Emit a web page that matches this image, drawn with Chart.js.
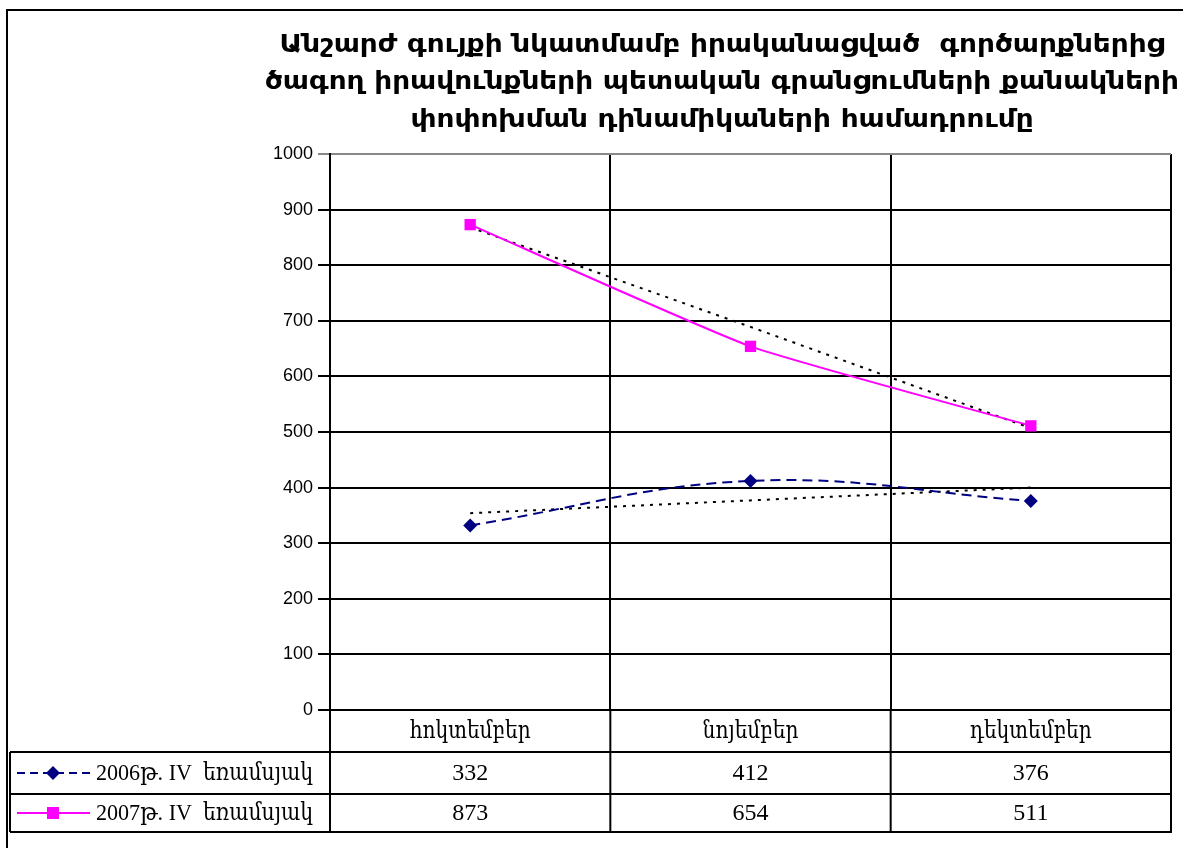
<!DOCTYPE html>
<html>
<head>
<meta charset="utf-8">
<script src="https://cdn.jsdelivr.net/npm/chart.js@4.4.1/dist/chart.umd.min.js"></script>
<style>
  body { margin: 0; background: #fff; }
  #wrap { width: 1185px; height: 848px; }
</style>
</head>
<body>
<div id="wrap"><canvas id="myChart" width="1185" height="848"></canvas></div>
<script>
const titleLines = [
    "Անշարժ գույքի նկատմամբ իրականացված  գործարքներից",
    "ծագող իրավունքների պետական գրանցումների քանակների",
    "փոփոխման դինամիկաների համադրումը"
];
const categories = ["հոկտեմբեր", "նոյեմբեր", "դեկտեմբեր"];
const seriesNames = ["2006թ. IV  եռամսյակ", "2007թ. IV  եռամսյակ"];
const values2006 = [332, 412, 376];
const values2007 = [873, 654, 511];
// dotted trend lines
const trend2006 = [354, 377, 400];
const trend2007 = [868, 689, 507];
const yMin = 0;
const yMax = 1000;
const yStep = 100;

const navy = "#000080";
const magenta = "#ff00ff";
const tableFont = "24px 'Liberation Serif', 'DejaVu Serif', serif";

// draw text squeezed horizontally by factor sx
const fillSqueezed = (ctx, text, x, y, sx) => {
    ctx.save();
    ctx.translate(x, y);
    ctx.scale(sx, 1);
    ctx.fillText(text, 0, 0);
    ctx.restore();
};

const drawTitle = (ctx) => {
    ctx.save();
    ctx.fillStyle = "#000";
    ctx.font = "bold 25px 'DejaVu Sans Condensed', 'DejaVu Sans', sans-serif";
    ctx.textAlign = "center";
    ctx.textBaseline = "middle";
    // squeeze to the width of the first line in the picture
    let sx = 885 / ctx.measureText(titleLines[0]).width;
    const ys = [45, 82, 120];
    titleLines.forEach((t, i) => fillSqueezed(ctx, t, 722, ys[i], sx));
    ctx.restore();
};

// series name: "2006թ. IV" as is, the last word squeezed to end at x = 313
const drawName = (ctx, name, y) => {
    let cut = name.lastIndexOf(" ") + 1;
    let head = name.slice(0, cut);
    let tail = name.slice(cut);
    ctx.textAlign = "left";
    let headW = ctx.measureText(head).width * 0.92;
    fillSqueezed(ctx, head, 96, y, 0.92);
    let x = 96 + headW;
    fillSqueezed(ctx, tail, x, y, (313 - x) / ctx.measureText(tail).width);
};

const line = (ctx, x1, y1, x2, y2) => {
    ctx.beginPath();
    ctx.moveTo(x1, y1);
    ctx.lineTo(x2, y2);
    ctx.stroke();
};

const legendKey = (ctx, y, color, dash, marker) => {
    ctx.save();
    ctx.strokeStyle = color;
    ctx.lineWidth = 2;
    ctx.setLineDash(dash);
    line(ctx, 17, y, 90, y);
    ctx.setLineDash([]);
    ctx.fillStyle = color;
    ctx.beginPath();
    if (marker === "diamond") {
        ctx.moveTo(53, y - 7);
        ctx.lineTo(60, y);
        ctx.lineTo(53, y + 7);
        ctx.lineTo(46, y);
    } else {
        ctx.rect(47, y - 6, 12, 12);
    }
    ctx.fill();
    ctx.restore();
};

const tablePlugin = {
    id: "dataTable",
    afterDraw(chart) {
        const ctx = chart.ctx;
        const xs = chart.scales.x;
        const area = chart.chartArea;
        const half = (xs.getPixelForValue(1) - xs.getPixelForValue(0)) / 2;
        const top = area.bottom;
        const r1 = top + 42, r2 = r1 + 42, r3 = r2 + 38;

        ctx.save();
        ctx.strokeStyle = "#000";
        ctx.lineWidth = 2;
        // outer frame
        line(ctx, 7, 10, 7, 848);
        line(ctx, 6, 10, 1183, 10);
        // table grid
        line(ctx, 10, r1, area.right, r1);
        line(ctx, 10, r2, area.right, r2);
        line(ctx, 10, r3, area.right + 1, r3);
        line(ctx, 10, r1, 10, r3);
        for (let i = 0; i <= categories.length; i++) {
            let x = i < categories.length ? xs.getPixelForValue(i) - half : area.right;
            line(ctx, x, top, x, r3);
        }

        ctx.fillStyle = "#000";
        ctx.font = tableFont;
        ctx.textAlign = "center";
        ctx.textBaseline = "middle";
        let catSx = 121 / ctx.measureText(categories[0]).width;
        categories.forEach((c, i) => {
            let x = xs.getPixelForValue(i);
            fillSqueezed(ctx, c, x, (top + r1) / 2 + 1, catSx);
            ctx.fillText(String(values2006[i]), x, (r1 + r2) / 2 + 1);
            ctx.fillText(String(values2007[i]), x, (r2 + r3) / 2 + 1);
        });

        drawName(ctx, seriesNames[0], (r1 + r2) / 2 + 1);
        drawName(ctx, seriesNames[1], (r2 + r3) / 2 + 1);
        legendKey(ctx, (r1 + r2) / 2, navy, [8, 5], "diamond");
        legendKey(ctx, (r2 + r3) / 2, magenta, [], "square");

        drawTitle(ctx);
        ctx.restore();
    }
};

const ctx = document.getElementById("myChart").getContext("2d");

const myChart = new Chart(ctx, {
    type: "line",
    data: {
        labels: categories,
        datasets: [
            {
                label: seriesNames[0],
                data: values2006,
                borderColor: navy,
                backgroundColor: navy,
                borderWidth: 2,
                borderDash: [10, 6],
                tension: 0.4,
                pointStyle: "rectRot",
                pointRadius: 7,
                pointBorderWidth: 0,
            },
            {
                label: seriesNames[1],
                data: values2007,
                borderColor: magenta,
                backgroundColor: magenta,
                borderWidth: 2,
                tension: 0.15,
                pointStyle: "rect",
                pointRadius: 8,
                pointBorderWidth: 0,
            },
            {
                label: "trend 2006",
                data: trend2006,
                borderColor: "#000",
                borderWidth: 2,
                borderDash: [3, 6],
                pointRadius: 0,
                tension: 0,
            },
            {
                label: "trend 2007",
                data: trend2007,
                borderColor: "#000",
                borderWidth: 2,
                borderDash: [3, 6],
                pointRadius: 0,
                tension: 0,
            },
        ],
    },
    options: {
        responsive: false,
        animation: false,
        layout: { padding: { left: 0, top: 154, right: 14, bottom: 138 } },
        plugins: {
            legend: { display: false },
            title: { display: false },
            tooltip: { enabled: false },
        },
        scales: {
            x: {
                offset: true,
                grid: { offset: true, color: "#000", lineWidth: 2, drawTicks: false },
                border: { color: "#000", width: 2 },
                ticks: { display: false },
                afterFit: (s) => { s.height = 0; },
            },
            y: {
                min: yMin,
                max: yMax,
                ticks: {
                    stepSize: yStep,
                    color: "#000",
                    padding: 5,
                    font: { family: "'Liberation Sans', Arial, sans-serif", size: 18 },
                    callback: (v) => String(v),
                },
                grid: {
                    color: (c) => (c.tick && c.tick.value === yMax ? "#888" : "#000"),
                    lineWidth: 2,
                    tickLength: 12,
                },
                border: { color: "#000", width: 2 },
                afterFit: (s) => { s.width = 330; },
            },
        },
    },
    plugins: [tablePlugin],
});
</script>
</body>
</html>
